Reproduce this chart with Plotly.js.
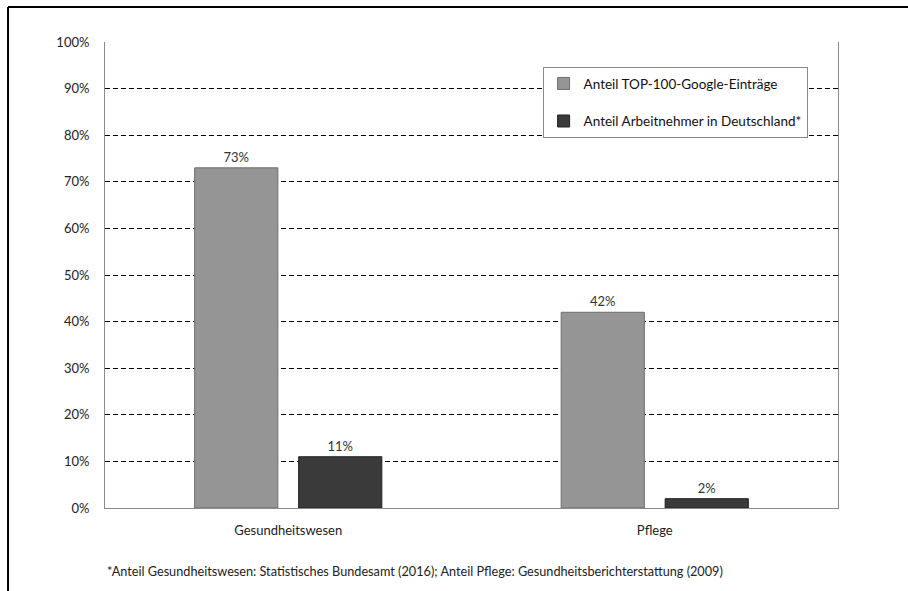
<!DOCTYPE html>
<html>
<head>
<meta charset="utf-8">
<script src="https://cdn.plot.ly/plotly-3.0.1.min.js"></script>
<style>html,body{margin:0;padding:0;background:#fff;}#chart{width:908px;height:591px;}</style>
</head>
<body>
<div id="chart"></div>
<script>
const categories = ["Gesundheitswesen", "Pflege"];
const seriesNames = ["Anteil TOP-100-Google-Einträge", "Anteil Arbeitnehmer in Deutschland*"];
const googleShare = [0.73, 0.42];
const employeeShare = [0.11, 0.02];
const yTickValues = [0, 0.1, 0.2, 0.3, 0.4, 0.5, 0.6, 0.7, 0.8, 0.9, 1.0];
const yTickLabels = ["0%", "10%", "20%", "30%", "40%", "50%", "60%", "70%", "80%", "90%", "100%"];
const footnote = "*Anteil Gesundheitswesen: Statistisches Bundesamt (2016); Anteil Pflege: Gesundheitsberichterstattung (2009)";

const FONT = "Lato, 'Open Sans', sans-serif";
const pct = v => Math.round(v * 100) + "%";

const traces = [
  {
    type: "bar", x: categories, y: googleShare, name: seriesNames[0],
    legendgroup: "a",
    marker: {color: "#959595", line: {color: "#6e6e6e", width: 1}},
    text: googleShare.map(pct), textposition: "outside", cliponaxis: false,
    textfont: {family: FONT, size: 13, color: "#333"}
  },
  {
    type: "bar", x: categories, y: employeeShare, name: seriesNames[1],
    legendgroup: "b",
    marker: {color: "#3a3a3a", line: {color: "#222", width: 1}},
    text: employeeShare.map(pct), textposition: "outside", cliponaxis: false,
    textfont: {family: FONT, size: 13, color: "#333"}
  }
];

const layout = {
  width: 908, height: 591,
  margin: {l: 105, r: 70, t: 42, b: 83},
  paper_bgcolor: "#fff", plot_bgcolor: "#fff",
  font: {family: FONT, size: 13, color: "#222"},
  barmode: "group", bargap: 0.4325, bargroupgap: 0.2,
  showlegend: true,
  legend: {
    x: 0.597, y: 0.946, xanchor: "left", yanchor: "top",
    bgcolor: "#fff", bordercolor: "#8a8a8a", borderwidth: 1,
    font: {family: FONT, size: 13.5, color: "#111"},
    tracegroupgap: 17, traceorder: "grouped",
    entrywidth: 256, entrywidthmode: "pixels"
  },
  xaxis: {
    showgrid: false, showline: true, linecolor: "#8a8a8a", linewidth: 1,
    ticks: "", ticklabelstandoff: 10,
    tickfont: {family: FONT, size: 13, color: "#222"},
    fixedrange: true
  },
  yaxis: {
    range: [0, 1], tickvals: yTickValues, ticktext: yTickLabels,
    showgrid: true, gridcolor: "#000", gridwidth: 1, griddash: "5px,3px",
    showline: true, linecolor: "#8a8a8a", linewidth: 1, mirror: true,
    zeroline: false, ticks: "", ticklabelstandoff: 12,
    tickfont: {family: FONT, size: 13, color: "#222"},
    fixedrange: true
  },
  shapes: [
    {type: "line", xref: "paper", yref: "paper", x0: -0.1323, x1: 1.2, y0: 1.0751, y1: 1.0751, line: {color: "#000", width: 2}},
    {type: "line", xref: "paper", yref: "paper", x0: -0.1323, x1: -0.1323, y0: 1.0751, y1: -0.2, line: {color: "#000", width: 2}}
  ],
  annotations: [
    {xref: "paper", yref: "paper", x: 0, y: -0.136, xanchor: "left", yanchor: "middle",
     text: footnote, showarrow: false, font: {family: FONT, size: 12.7, color: "#222"}}
  ]
};

Plotly.newPlot("chart", traces, layout, {staticPlot: true, displayModeBar: false});
</script>
</body>
</html>
